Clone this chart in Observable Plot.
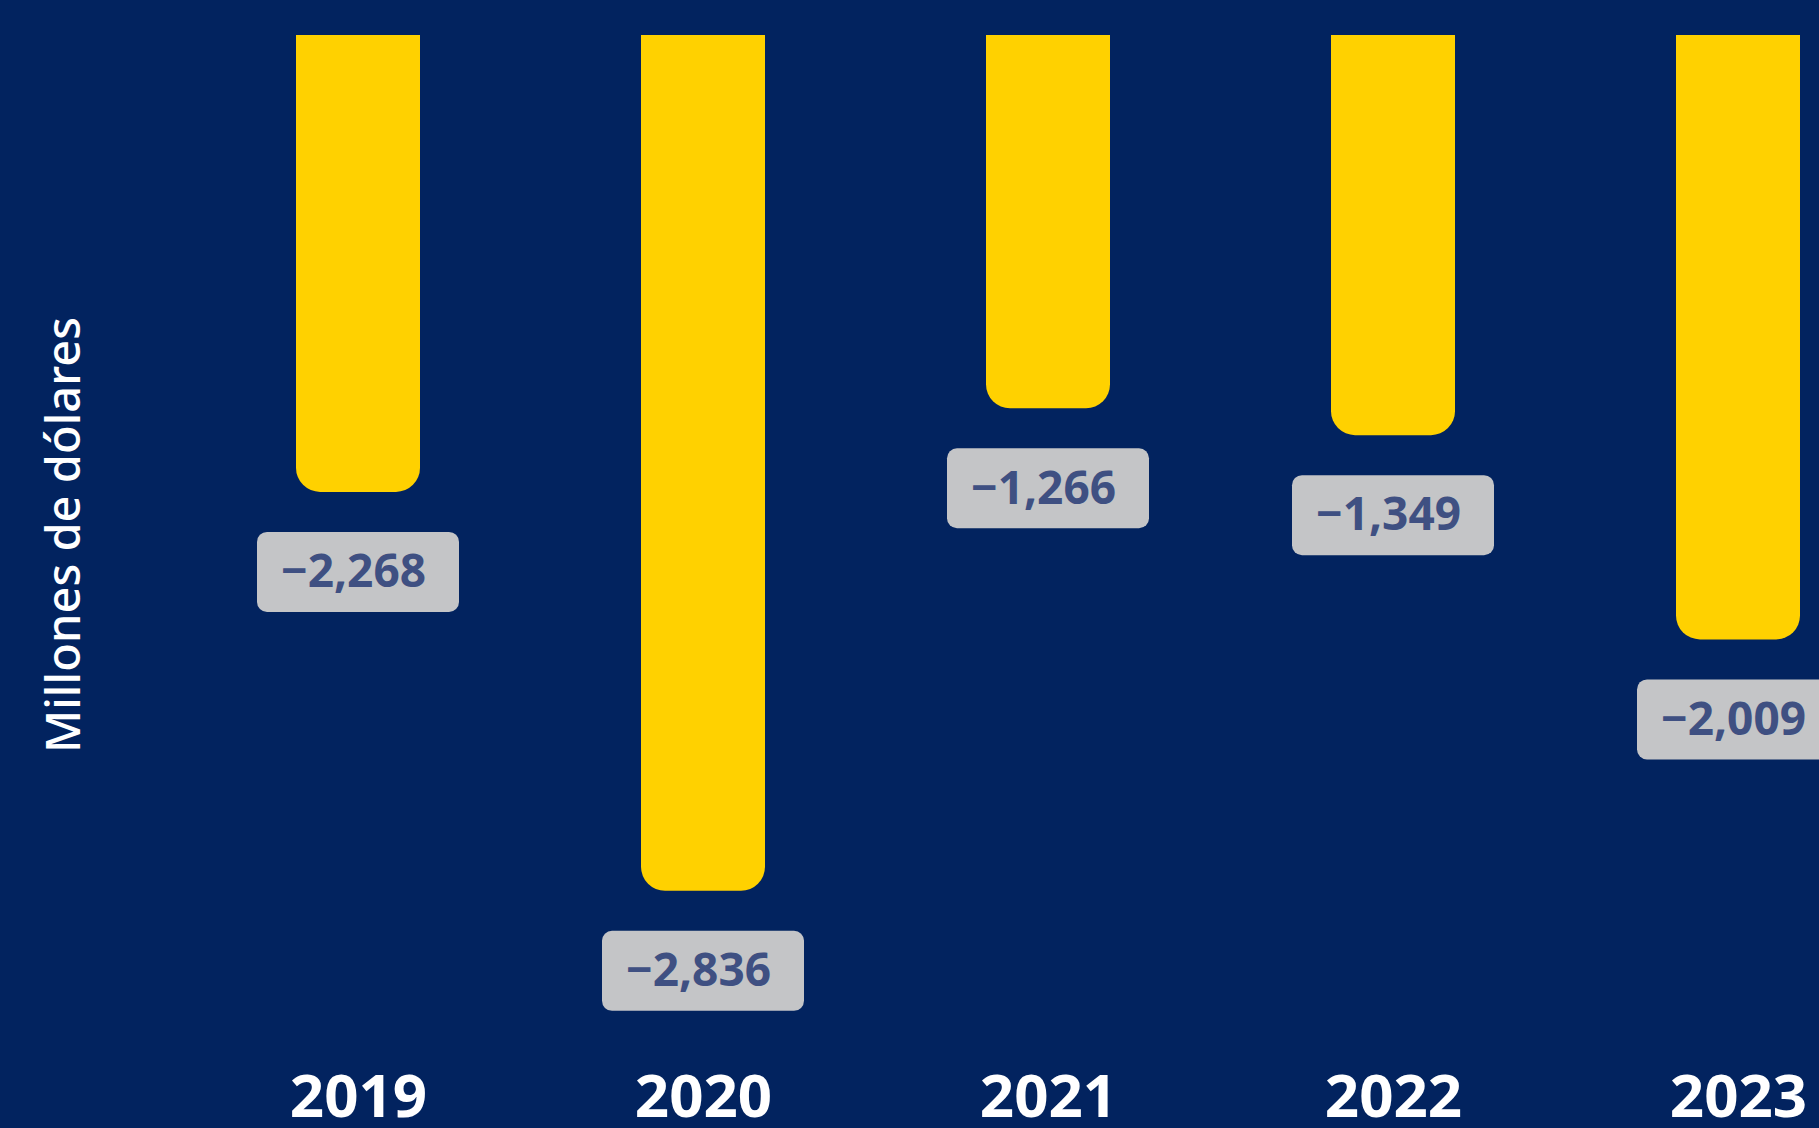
<!DOCTYPE html>
<html>
<head>
<meta charset="utf-8">
<script src="https://cdn.jsdelivr.net/npm/d3@7"></script>
<script src="https://cdn.jsdelivr.net/npm/@observablehq/plot@0.6"></script>
<style>
  html, body { margin: 0; padding: 0; background: #02235F; }
  #chart { width: 1819px; height: 1128px; overflow: hidden; }
</style>
</head>
<body>
<div id="chart"></div>
<script>
// Years (categories)
const years = ["2019", "2020", "2021", "2022", "2023"];
// Values printed in the labels (millions of dollars)
const labelValues = [-2268, -2836, -1266, -1349, -2009];
// Bar lengths as drawn in the reference (same units)
const barValues = [-1514, -2836, -1237, -1326, -2003];
const axisLabel = "Millones de dólares";

const data = years.map((year, i) => ({year, value: labelValues[i], bar: barValues[i]}));
const fmt = v => (v < 0 ? "\u2212" : "") + d3.format(",")(Math.abs(v));

const YELLOW = "#FFD100";
const BOX = "#C4C5C7";
const LABEL_TEXT = "#3F5082";

const chart = Plot.plot({
  width: 1819,
  height: 1128,
  marginTop: 35,
  marginBottom: 70,
  marginLeft: 296,
  marginRight: 18,
  style: {background: "#02235F", color: "white", fontFamily: "'Noto Sans', 'Open Sans', sans-serif", overflow: "visible"},
  x: {type: "band", domain: years, paddingInner: 0.64, paddingOuter: 0, axis: null},
  y: {domain: [-3390, 0], axis: null},
  marks: [
    // rounded bar
    Plot.barY(data, {x: "year", y: "bar", fill: YELLOW, rx: 24}),
    // square top part (covers the rounded top corners)
    Plot.barY(data, {x: "year", y: d => d.bar / 2, fill: YELLOW}),
    // label boxes
    Plot.barY(data, {x: "year", y1: "bar", y2: "bar", fill: BOX, rx: 10,
      insetLeft: -39, insetRight: -39, insetTop: -40, insetBottom: -40, dy: 80}),
    // label texts
    Plot.text(data, {x: "year", y: "bar", text: d => fmt(d.value), dy: 80, dx: -5,
      fill: LABEL_TEXT, fontSize: 46, fontWeight: "bold", lineAnchor: "middle"}),
    // y axis title
    Plot.text([axisLabel], {frameAnchor: "left", rotate: -90, dx: -232, dy: -12,
      textAnchor: "middle", fill: "white", fontSize: 47, fontWeight: 500, lineAnchor: "middle"}),
    // x axis (years)
    Plot.axisX({tickSize: 0, tickPadding: 16, fontSize: 60, fontWeight: "bold", label: null, fill: "white"})
  ]
});
document.getElementById("chart").appendChild(chart);
</script>
</body>
</html>
